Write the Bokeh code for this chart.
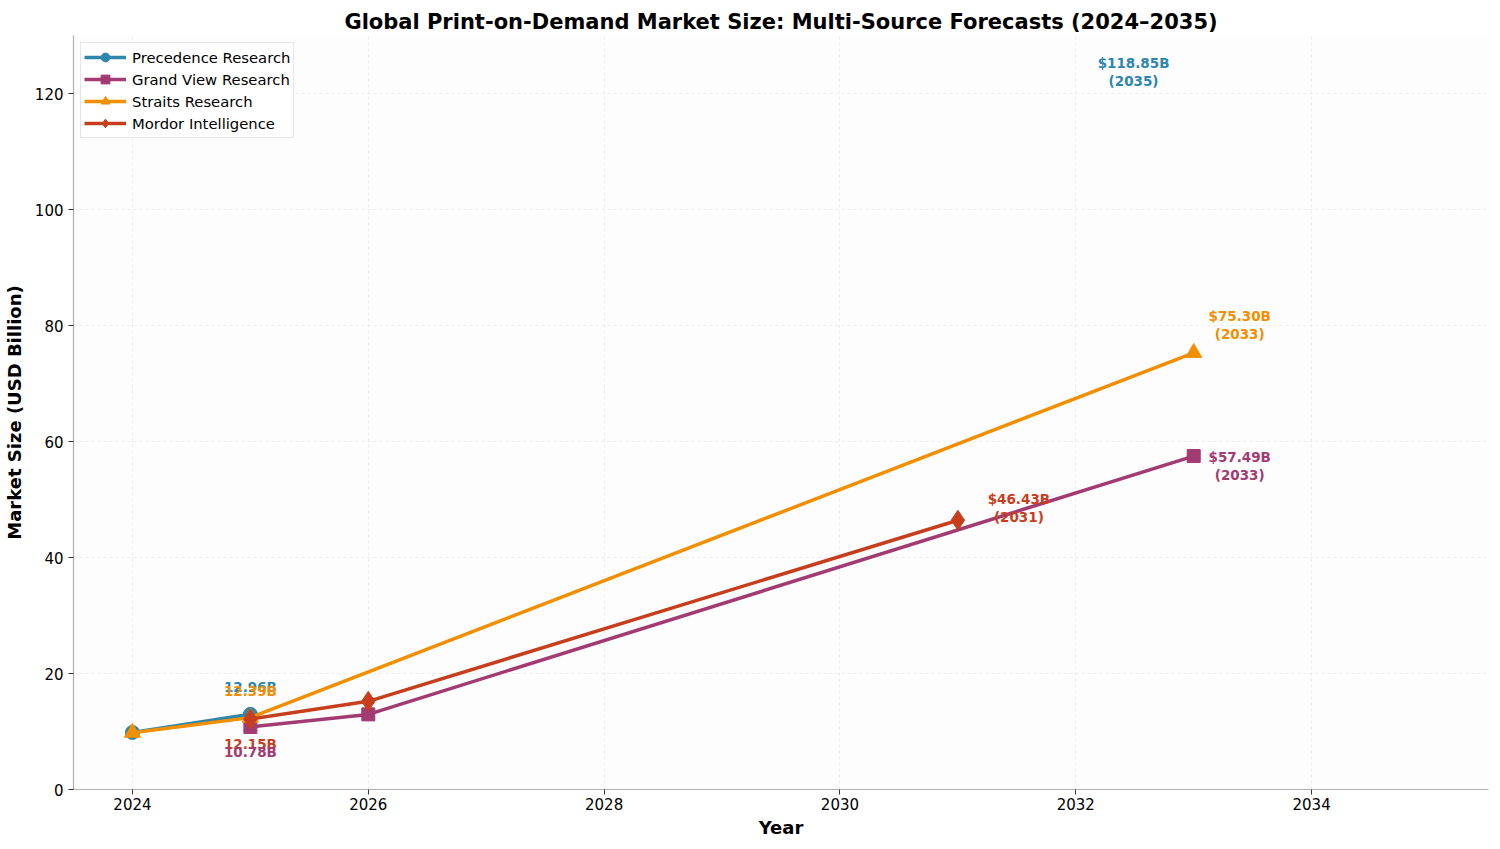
from bokeh.plotting import figure
from bokeh.models import FixedTicker, Range1d, Legend, LegendItem, ColumnDataSource
from bokeh.core.properties import value
from bokeh.embed import file_html
from bokeh.resources import INLINE

# ---- data ----
prec_years = [2024, 2025]
prec_vals = [9.84, 12.96]
prec_forecast_year = 2035
prec_forecast_val = 118.85

gv_years = [2025, 2026, 2033]
gv_vals = [10.78, 12.95, 57.49]

st_years = [2024, 2025, 2033]
st_vals = [9.80, 12.39, 75.30]

mo_years = [2025, 2026, 2031]
mo_vals = [12.15, 15.20, 46.43]

x_ticks = [2024, 2026, 2028, 2030, 2032, 2034]
y_ticks = [0, 20, 40, 60, 80, 100, 120]

series_names = ["Precedence Research", "Grand View Research", "Straits Research", "Mordor Intelligence"]

# ---- style ----
colors = ["#2E86AB", "#A23B72", "#F18F01", "#C73E1D"]
markers = ["circle", "square", "triangle", "diamond"]
marker_sizes = [14, 13, 16, 20]
FONT = "DejaVu Sans"

p = figure(frame_width=1415, frame_height=754, output_backend="svg", toolbar_location=None,
           x_range=Range1d(2023.5, 2035.5), y_range=Range1d(0, 130),
           min_border_left=66, min_border_right=3, min_border_top=35, min_border_bottom=46,
           background_fill_color="#fdfdfd", border_fill_color="white")

p.title.text = "Global Print-on-Demand Market Size: Multi-Source Forecasts (2024\u20132035)"
p.title.align = "center"
p.title.text_font = FONT
p.title.text_font_size = "21px"
p.title.text_font_style = "bold"
p.title.text_color = "black"
p.title.offset = 0
p.title.standoff = 4

p.outline_line_color = None
for ax in (p.xaxis[0], p.yaxis[0]):
    ax.axis_line_color = "#b0b0b0"
    ax.axis_line_width = 1.2
    ax.major_tick_line_color = "#333333"
    ax.major_tick_out = 5
    ax.major_tick_in = 0
    ax.minor_tick_line_color = None
    ax.major_label_text_font = FONT
    ax.major_label_text_font_size = "15px"
    ax.major_label_text_color = "black"
    ax.major_label_standoff = 5
    ax.axis_label_text_font = FONT
    ax.axis_label_text_font_size = "18px"
    ax.axis_label_text_font_style = "bold"
    ax.axis_label_text_color = "black"

p.xaxis.ticker = FixedTicker(ticks=x_ticks)
p.yaxis.ticker = FixedTicker(ticks=y_ticks)
p.xaxis.axis_label = "Year"
p.yaxis.axis_label = "Market Size (USD Billion)"
p.xaxis.major_label_standoff = 3
p.xaxis.axis_label_standoff = 4
p.yaxis.axis_label_standoff = 7

p.xgrid.grid_line_color = "#e0e0e0"
p.ygrid.grid_line_color = "#e0e0e0"
p.xgrid.grid_line_dash = "3 3"
p.ygrid.grid_line_dash = "3 3"
p.xgrid.grid_line_alpha = 0.5
p.ygrid.grid_line_alpha = 0.5

all_years = [prec_years, gv_years, st_years, mo_years]
all_vals = [prec_vals, gv_vals, st_vals, mo_vals]

items = []
for name, xs, ys, c, m, ms in zip(series_names, all_years, all_vals, colors, markers, marker_sizes):
    src = ColumnDataSource(dict(x=xs, y=ys))
    r1 = p.line("x", "y", source=src, line_color=c, line_width=3.5)
    r2 = p.scatter("x", "y", source=src, marker=m, size=ms, fill_color=c, line_color=c)
    items.append(LegendItem(label=name, renderers=[r1, r2]))

legend = Legend(items=items, location="top_left")
legend.label_text_font = FONT
legend.label_text_font_size = "14.8px"
legend.label_text_color = "black"
legend.border_line_color = "#cccccc"
legend.border_line_width = 1
legend.background_fill_alpha = 0.85
legend.margin = 7
legend.padding = 3
legend.spacing = 0
legend.glyph_width = 42
legend.glyph_height = 22
legend.label_height = 18
legend.label_standoff = 6
p.add_layout(legend, "center")

# ---- annotations ----
ann_x = [prec_years[1], st_years[1], mo_years[0], gv_years[0]]
ann_y = [prec_vals[1], st_vals[1], mo_vals[0], gv_vals[0]]
ann_text = ["%.2fB" % v for v in ann_y]
ann_colors = [colors[0], colors[2], colors[3], colors[1]]
ann_dy = [-27, -27, 25, 25]
for x, y, t, c, dy in zip(ann_x, ann_y, ann_text, ann_colors, ann_dy):
    p.text(x=[x], y=[y], text=[t], text_color=c, text_font=value(FONT),
           text_font_size="13.5px", text_font_style="bold", text_align="center",
           text_baseline="middle", y_offset=dy)

end_x = [prec_forecast_year, st_years[-1], gv_years[-1], mo_years[-1]]
end_y = [prec_forecast_val, st_vals[-1], gv_vals[-1], mo_vals[-1]]
end_colors = [colors[0], colors[2], colors[1], colors[3]]
end_dx = [-296, 46, 46, 61]
end_dy = [-28, -28, 10, -12]
for x, y, c, dx, dy in zip(end_x, end_y, end_colors, end_dx, end_dy):
    t = "$%.2fB\n(%d)" % (y, x)
    p.text(x=[x], y=[y], text=[t], text_color=c, text_font=value(FONT),
           text_font_size="13.5px", text_font_style="bold", text_align="center",
           text_baseline="middle", x_offset=dx, y_offset=dy, text_line_height=1.1)

open("out.html", "w").write(file_html(p, INLINE))
